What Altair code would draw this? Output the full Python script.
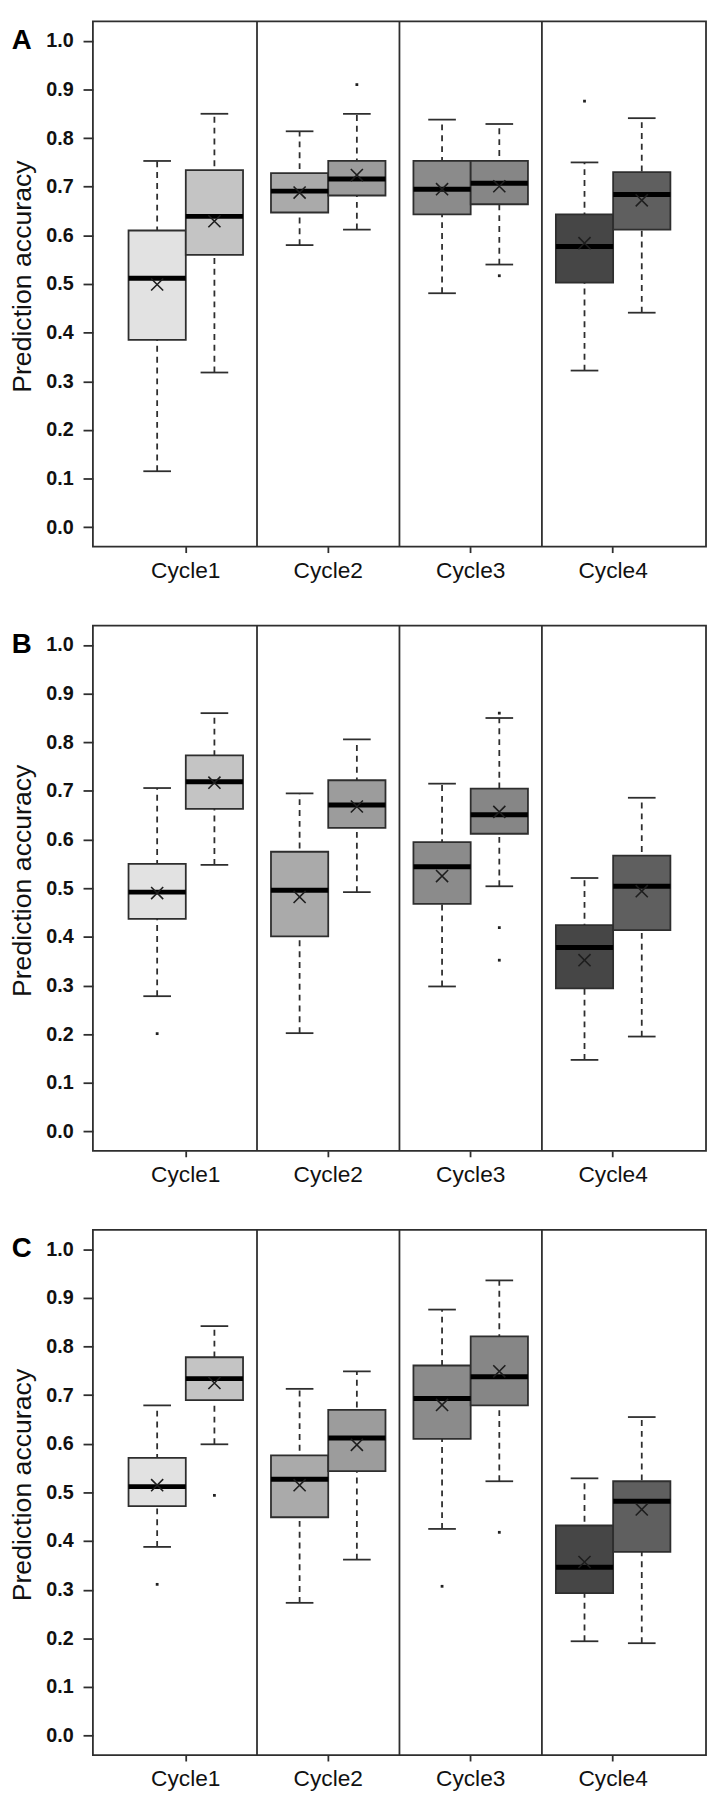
import altair as alt
import pandas as pd

# ---------------- data ----------------
cycles = ["Cycle1", "Cycle2", "Cycle3", "Cycle4"]
pairs = ["first", "second"]
panel_letters = ["A", "B", "C"]
y_ticks = [0.0, 0.1, 0.2, 0.3, 0.4, 0.5, 0.6, 0.7, 0.8, 0.9, 1.0]

# box order: Cycle1-first, Cycle1-second, Cycle2-first, ... Cycle4-second
a_low = [0.115, 0.318, 0.580, 0.612, 0.481, 0.540, 0.322, 0.441]
a_q1 = [0.385, 0.560, 0.647, 0.682, 0.643, 0.664, 0.503, 0.612]
a_med = [0.512, 0.639, 0.691, 0.716, 0.695, 0.707, 0.577, 0.684]
a_q3 = [0.610, 0.734, 0.728, 0.753, 0.753, 0.753, 0.643, 0.730]
a_high = [0.753, 0.850, 0.814, 0.850, 0.838, 0.829, 0.750, 0.841]
a_mean = [0.499, 0.629, 0.688, 0.724, 0.695, 0.701, 0.584, 0.672]
a_out_box = [3, 5, 6]
a_out_val = [0.910, 0.517, 0.876]

b_low = [0.278, 0.548, 0.202, 0.492, 0.298, 0.504, 0.147, 0.195]
b_q1 = [0.437, 0.663, 0.401, 0.624, 0.468, 0.612, 0.294, 0.414]
b_med = [0.492, 0.719, 0.496, 0.671, 0.544, 0.651, 0.378, 0.504]
b_q3 = [0.550, 0.773, 0.575, 0.722, 0.595, 0.705, 0.424, 0.567]
b_high = [0.706, 0.860, 0.695, 0.806, 0.715, 0.850, 0.521, 0.686]
b_mean = [0.490, 0.717, 0.482, 0.668, 0.525, 0.657, 0.352, 0.494]
b_out_box = [0, 5, 5, 5]
b_out_val = [0.201, 0.860, 0.419, 0.352]

c_low = [0.388, 0.599, 0.273, 0.362, 0.425, 0.523, 0.194, 0.190]
c_q1 = [0.472, 0.690, 0.449, 0.544, 0.610, 0.679, 0.293, 0.378]
c_med = [0.512, 0.734, 0.527, 0.612, 0.693, 0.738, 0.346, 0.482]
c_q3 = [0.571, 0.778, 0.576, 0.670, 0.761, 0.821, 0.432, 0.523]
c_high = [0.679, 0.842, 0.713, 0.749, 0.876, 0.936, 0.529, 0.655]
c_mean = [0.515, 0.725, 0.515, 0.598, 0.680, 0.749, 0.357, 0.465]
c_out_box = [0, 1, 4, 5]
c_out_val = [0.311, 0.494, 0.307, 0.418]

fills = ["#e2e2e2", "#c4c4c4", "#aaaaaa", "#9c9c9c",
         "#8b8b8b", "#868686", "#464646", "#5f5f5f"]

# ---------------- style ----------------
INK = "#2e2e2e"
FONT = "Liberation Sans"
W, H = 621, 532
LW = 1.8

box_ids = [c + "-" + p for c in cycles for p in pairs]

xscale = alt.Scale(type="band", domain=cycles, paddingInner=0, paddingOuter=0.152)
offscale = alt.Scale(type="band", domain=pairs, paddingInner=0, paddingOuter=0.244)
yscale = alt.Scale(domain=[-0.04, 1.04], nice=False, zero=False)

xaxis = alt.Axis(title=None, labelAngle=0, tickSize=6, tickWidth=LW, tickColor=INK,
                 domain=False, grid=False, labelFontSize=23, labelFont=FONT,
                 labelColor="#111111", labelPadding=7)
yaxis = alt.Axis(title="Prediction accuracy", values=y_ticks, format=".1f",
                 tickSize=10, tickWidth=LW, tickColor=INK, domain=False, grid=False,
                 labelFontSize=20, labelFontWeight="bold", labelFont=FONT,
                 labelColor="#111111", labelPadding=10,
                 titleFontSize=27, titleFontWeight="normal", titleFont=FONT,
                 titleColor="#111111", titleAngle=-90, titleBaseline="middle",
                 titleX=-71, titleY=258)


def panel(letter, low, q1, med, q3, high, mean, out_box, out_val):
    df = pd.DataFrame({
        "cycle": [c for c in cycles for _ in pairs],
        "pair": [p for _ in cycles for p in pairs],
        "low": low, "q1": q1, "med": med, "q3": q3, "high": high, "mean": mean,
    })
    df["box"] = df["cycle"] + "-" + df["pair"]
    out = pd.DataFrame({
        "cycle": [df["cycle"][i] for i in out_box],
        "pair": [df["pair"][i] for i in out_box],
        "value": out_val,
    })

    X = alt.X("cycle:N", scale=xscale, axis=xaxis)
    XO = alt.XOffset("pair:N", scale=offscale)

    def Y(field):
        return alt.Y(field, scale=yscale, axis=yaxis)

    base = alt.Chart(df)

    dividers = alt.Chart(pd.DataFrame({"cycle": cycles[1:]})).mark_rule(
        color=INK, strokeWidth=LW
    ).encode(x=alt.X("cycle:N", scale=xscale, axis=xaxis, bandPosition=0))

    whiskers = base.mark_rule(color=INK, strokeWidth=LW, strokeDash=[6, 5]).encode(
        x=X, xOffset=XO, y=Y("low:Q"), y2="high:Q")
    cap_lo = base.mark_tick(orient="horizontal", size=28, thickness=LW, color=INK,
                            opacity=1).encode(x=X, xOffset=XO, y=Y("low:Q"))
    cap_hi = base.mark_tick(orient="horizontal", size=28, thickness=LW, color=INK,
                            opacity=1).encode(x=X, xOffset=XO, y=Y("high:Q"))
    boxes = base.mark_bar(stroke=INK, strokeWidth=LW, opacity=1).encode(
        x=X, xOffset=XO, y=Y("q1:Q"), y2="q3:Q",
        fill=alt.Fill("box:N", scale=alt.Scale(domain=box_ids, range=fills), legend=None))
    medians = base.mark_tick(orient="horizontal", size=58, thickness=5, color="#000000",
                             opacity=1).encode(x=X, xOffset=XO, y=Y("med:Q"))
    means = base.mark_point(shape="M-1,-1L1,1M-1,1L1,-1", size=150, filled=False,
                            strokeWidth=1.6, color="#1e1e1e", opacity=1).encode(
        x=X, xOffset=XO, y=Y("mean:Q"))
    outliers = alt.Chart(out).mark_point(shape="square", filled=True, size=8,
                                          color="#222222", opacity=1).encode(
        x=X, xOffset=XO, y=Y("value:Q"))
    label = alt.Chart(pd.DataFrame({"t": [letter]})).mark_text(
        font=FONT, fontSize=28, fontWeight="bold", color="#000000",
        align="center", baseline="middle"
    ).encode(text="t:N", x=alt.value(-72), y=alt.value(20))

    return alt.layer(dividers, whiskers, cap_lo, cap_hi, boxes, medians, means,
                     outliers, label).properties(width=W, height=H)


chart = alt.vconcat(
    panel(panel_letters[0], a_low, a_q1, a_med, a_q3, a_high, a_mean, a_out_box, a_out_val),
    panel(panel_letters[1], b_low, b_q1, b_med, b_q3, b_high, b_mean, b_out_box, b_out_val),
    panel(panel_letters[2], c_low, c_q1, c_med, c_q3, c_high, c_mean, c_out_box, c_out_val),
    spacing=80, bounds="flush",
).properties(padding=0, background="white").configure_view(
    stroke=INK, strokeWidth=LW
)

chart.save("out.html", embed_options={"renderer": "svg", "actions": False})
